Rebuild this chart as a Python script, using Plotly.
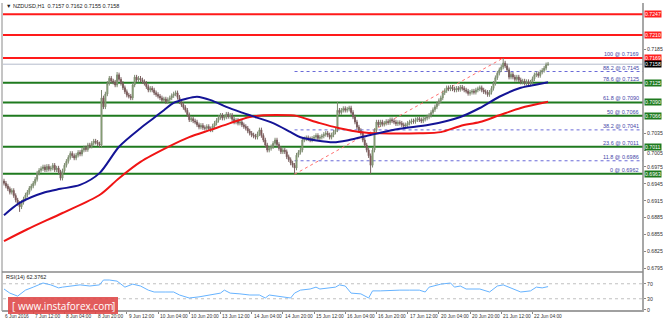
import plotly.graph_objects as go

# ---------------- DATA ----------------
closes = [
    0.6946, 0.6941, 0.6936, 0.6930, 0.6933, 0.6924, 0.6916, 0.6910, 0.6904, 0.6912,
    0.6918, 0.6925, 0.6930, 0.6937, 0.6941, 0.6946, 0.6953, 0.6964, 0.6969, 0.6972,
    0.6975, 0.6970, 0.6976, 0.6971, 0.6973, 0.6978, 0.6970, 0.6973, 0.6966, 0.6955,
    0.6968, 0.6978, 0.6985, 0.6992, 0.6999, 0.6995, 0.6991, 0.6996, 0.7001, 0.6998,
    0.7005, 0.7009, 0.7006, 0.7014, 0.7012, 0.7017, 0.7021, 0.7019, 0.7016, 0.7014,
    0.7098, 0.7082, 0.7105, 0.7124, 0.7133, 0.7128, 0.7126, 0.7121, 0.7139, 0.7131,
    0.7124, 0.7116, 0.7109, 0.7103, 0.7101, 0.7098, 0.7121, 0.7135, 0.7130, 0.7133,
    0.7130, 0.7127, 0.7124, 0.7118, 0.7112, 0.7115, 0.7112, 0.7107, 0.7104, 0.7101,
    0.7098, 0.7094, 0.7096, 0.7091, 0.7095, 0.7098, 0.7102, 0.7105, 0.7107, 0.7099,
    0.7091, 0.7086, 0.7081, 0.7076, 0.7068, 0.7059, 0.7061, 0.7057, 0.7055, 0.7050,
    0.7046, 0.7049, 0.7045, 0.7044, 0.7047, 0.7043, 0.7041, 0.7048, 0.7053, 0.7058,
    0.7063, 0.7067, 0.7062, 0.7064, 0.7069, 0.7065, 0.7067, 0.7060, 0.7055, 0.7058,
    0.7053, 0.7055, 0.7050, 0.7047, 0.7044, 0.7039, 0.7035, 0.7032, 0.7030, 0.7028,
    0.7034, 0.7041, 0.7031, 0.7023, 0.7014, 0.7005, 0.7008, 0.7011, 0.7017, 0.7023,
    0.7015, 0.7008, 0.7002, 0.7005, 0.7002, 0.6993, 0.6988, 0.6982, 0.6978, 0.6973,
    0.6996, 0.7001, 0.7005, 0.7023, 0.7025, 0.7027, 0.7025, 0.7023, 0.7026, 0.7028,
    0.7031, 0.7026, 0.7028, 0.7030, 0.7033, 0.7035, 0.7032, 0.7028, 0.7032, 0.7037,
    0.7041, 0.7076, 0.7072, 0.7076, 0.7079, 0.7076, 0.7078, 0.7080, 0.7072, 0.7064,
    0.7055, 0.7046, 0.7040, 0.7035, 0.7023, 0.7014, 0.7005, 0.6995, 0.6978, 0.7005,
    0.7040, 0.7055, 0.7050, 0.7055, 0.7051, 0.7053, 0.7056, 0.7054, 0.7059, 0.7057,
    0.7055, 0.7052, 0.7054, 0.7053, 0.7050, 0.7048, 0.7050, 0.7053, 0.7055, 0.7057,
    0.7056, 0.7059, 0.7061, 0.7059, 0.7057, 0.7060, 0.7062, 0.7064, 0.7067, 0.7072,
    0.7077, 0.7082, 0.7088, 0.7093, 0.7098, 0.7107, 0.7111, 0.7116, 0.7114, 0.7117,
    0.7114, 0.7112, 0.7115, 0.7113, 0.7117, 0.7115, 0.7112, 0.7110, 0.7106, 0.7108,
    0.7110, 0.7108, 0.7112, 0.7114, 0.7116, 0.7112, 0.7109, 0.7108, 0.7104, 0.7108,
    0.7115, 0.7124, 0.7134, 0.7142, 0.7148, 0.7153, 0.7160, 0.7155, 0.7148, 0.7135,
    0.7140, 0.7135, 0.7131, 0.7135, 0.7130, 0.7126, 0.7128, 0.7124, 0.7127, 0.7123,
    0.7126, 0.7132, 0.7139, 0.7141, 0.7138, 0.7144, 0.7147, 0.7151, 0.7157, 0.7158,
]
first_open = 0.6950
wick = 0.0004
high_override = {50: 0.7112, 58: 0.7144, 171: 0.7091, 256: 0.7169, 279: 0.7162}
low_override = {8: 0.6895, 149: 0.6962, 188: 0.6963, 279: 0.7155}

ma_blue_x = [0, 8, 21, 29, 39, 49, 59, 70, 76, 82, 87, 93, 99, 106, 114, 121, 127, 138, 147,
             152, 169, 177, 188, 203, 218, 234, 244, 254, 265, 272, 279]
ma_blue_y = [0.6889, 0.6911, 0.6930, 0.6936, 0.6943, 0.6964, 0.7011, 0.7044, 0.7060, 0.7076,
             0.7089, 0.7096, 0.7100, 0.7094, 0.7082, 0.7073, 0.7066, 0.7053, 0.7037,
             0.7028, 0.7019, 0.7023, 0.7032, 0.7043, 0.7050, 0.7064, 0.7080, 0.7100,
             0.7116, 0.7121, 0.7126]

ma_red_x = [0, 12, 30, 49, 59, 70, 85, 95, 106, 116, 126, 133, 147, 150, 162, 172, 183,
            193, 213, 224, 234, 244, 254, 265, 279]
ma_red_y = [0.6843, 0.6864, 0.6893, 0.6925, 0.6955, 0.6984, 0.7012, 0.7028, 0.7041, 0.7053,
            0.7064, 0.7067, 0.7067, 0.7066, 0.7053, 0.7044, 0.7037, 0.7035, 0.7035,
            0.7037, 0.7048, 0.7055, 0.7067, 0.7080, 0.7091]

rsi_x = [0, 3, 7, 11, 15, 20, 24, 28, 30, 34, 39, 44, 49, 51, 54, 58, 62, 66, 70, 74, 77,
         83, 87, 90, 95, 100, 106, 111, 113, 116, 121, 126, 131, 134, 136, 142, 147, 149,
         152, 157, 160, 162, 167, 170, 172, 175, 178, 183, 187, 189, 193, 198, 203, 208,
         213, 216, 218, 224, 229, 231, 234, 237, 244, 249, 253, 256, 259, 265, 270, 273,
         276, 279]
rsi_y = [56, 45, 37, 53, 61, 72, 67, 59, 61, 64, 67, 64, 67, 80, 80, 77, 61, 69, 64, 53, 48,
         48, 48, 40, 32, 35, 40, 45, 53, 45, 43, 40, 40, 32, 40, 35, 32, 45,
         53, 56, 61, 56, 59, 61, 67, 64, 45, 43, 32, 51, 51, 53, 53, 53,
         53, 48, 61, 69, 72, 61, 64, 56, 56, 48, 64, 67, 61, 48, 51, 61,
         59, 62.38]

red_levels = [0.7247, 0.7210, 0.7169]
red_labels = ["0.7247", "0.7210", "0.7169"]
green_levels = [0.7125, 0.7090, 0.7066, 0.7011, 0.6963]
green_labels = ["0.7125", "0.7090", "0.7066", "0.7011", "0.6963"]
bid_level = 0.7158
bid_label = "0.7158"

fib_start_bar, fib_end_bar = 149, 256
fib_low, fib_high = 0.6962, 0.7169
fib_names = ["100", "88.2", "78.6", "61.8", "50", "38.2", "23.6", "11.8", "0"]
fib_values = [0.7169, 0.7145, 0.7125, 0.7090, 0.7066, 0.7041, 0.7011, 0.6986, 0.6962]
fib_dotted = ["88.2", "38.2", "11.8"]

price_ticks = [0.7185, 0.7035, 0.7005, 0.6975, 0.6945, 0.6915, 0.6885, 0.6855, 0.6825, 0.6795]
rsi_ticks = [100, 70, 30, 0]
rsi_levels = [70, 30]

time_labels = ["6 Jun 2016", "7 Jun 12:00", "8 Jun 04:00", "8 Jun 20:00", "9 Jun 12:00",
               "10 Jun 04:00", "10 Jun 20:00", "13 Jun 12:00", "14 Jun 04:00", "14 Jun 20:00",
               "15 Jun 12:00", "16 Jun 04:00", "16 Jun 20:00", "17 Jun 12:00", "20 Jun 04:00",
               "20 Jun 20:00", "21 Jun 12:00", "22 Jun 04:00"]
bars_per_label = 16

title_text = "\u25bc NZDUSD,H1  0.7157 0.7162 0.7155 0.7158"
rsi_text = "RSI(14) 62.3762"

# ---------------- BUILD ----------------
N = len(closes)
bars = list(range(N))
opens = [first_open] + closes[:-1]
highs = [high_override.get(i, max(o, c) + wick) for i, (o, c) in enumerate(zip(opens, closes))]
lows = [low_override.get(i, min(o, c) - wick) for i, (o, c) in enumerate(zip(opens, closes))]

W, H = 663, 322
L, R, T, B = 3, 20, 3, 11
PW, PH = W - L - R, H - T - B
x_range = [-0.513, -0.513 + PW / 1.95]


def yp(py):
    return (H - B - py) / PH


def xp(px):
    return (px - L) / PW


FONT = "Liberation Sans"
AX = 5.2

fig = go.Figure()

fig.add_trace(go.Candlestick(
    x=bars, open=opens, high=highs, low=lows, close=closes,
    increasing=dict(line=dict(color="#7d8a70", width=1), fillcolor="#9ad97a"),
    decreasing=dict(line=dict(color="#7a6060", width=1), fillcolor="#8b1c1c"),
    whiskerwidth=0, showlegend=False, xaxis="x", yaxis="y", hoverinfo="skip"))

fig.add_trace(go.Scatter(x=ma_red_x, y=ma_red_y, mode="lines",
                         line=dict(color="#f01414", width=2, shape="spline", smoothing=0.8),
                         showlegend=False, xaxis="x", yaxis="y", hoverinfo="skip"))
fig.add_trace(go.Scatter(x=ma_blue_x, y=ma_blue_y, mode="lines",
                         line=dict(color="#141496", width=2, shape="spline", smoothing=0.8),
                         showlegend=False, xaxis="x", yaxis="y", hoverinfo="skip"))

fig.add_trace(go.Scatter(x=rsi_x, y=rsi_y, mode="lines",
                         line=dict(color="#66b3ff", width=1),
                         showlegend=False, xaxis="x", yaxis="y2", hoverinfo="skip"))

shapes = []
annotations = []

for lv in red_levels:
    shapes.append(dict(type="line", xref="paper", yref="y", x0=0, x1=1, y0=lv, y1=lv,
                       line=dict(color="#ff1a1a", width=2), layer="below"))
for lv in green_levels:
    shapes.append(dict(type="line", xref="paper", yref="y", x0=0, x1=1, y0=lv, y1=lv,
                       line=dict(color="#1f7a1f", width=2), layer="below"))
shapes.append(dict(type="line", xref="paper", yref="y", x0=0, x1=1, y0=bid_level, y1=bid_level,
                   line=dict(color="#b4bccb", width=1), layer="below"))

for name, v in zip(fib_names, fib_values):
    if name in fib_dotted:
        shapes.append(dict(type="line", xref="x", yref="y", x0=fib_start_bar, x1=x_range[1],
                           y0=v, y1=v, line=dict(color="#6a6ad8", width=1, dash="dot"),
                           layer="below"))
    annotations.append(dict(xref="paper", yref="y", x=1, y=v, xanchor="right", yanchor="bottom",
                            xshift=-2, yshift=-1, text=f"{name} @ {v:.4f}", showarrow=False,
                            font=dict(family=FONT, size=5.5, color="#4646a8")))
shapes.append(dict(type="line", xref="x", yref="y", x0=fib_start_bar, x1=fib_end_bar,
                   y0=fib_low, y1=fib_high, line=dict(color="#ff7070", width=1, dash="dot"),
                   layer="below"))

for lv in rsi_levels:
    shapes.append(dict(type="line", xref="paper", yref="y2", x0=0, x1=1, y0=lv, y1=lv,
                       line=dict(color="#c0c0c0", width=1, dash="dot"), layer="below"))

frame = "#8a8a8a"
shapes += [
    dict(type="line", xref="paper", yref="paper", x0=xp(2), x1=xp(2), y0=yp(311), y1=1,
         line=dict(color=frame, width=1)),
    dict(type="line", xref="paper", yref="paper", x0=1, x1=1, y0=yp(312), y1=1,
         line=dict(color=frame, width=1.5)),
    dict(type="line", xref="paper", yref="paper", x0=xp(2), x1=1, y0=yp(272), y1=yp(272),
         line=dict(color=frame, width=1.5)),
    dict(type="line", xref="paper", yref="paper", x0=xp(2), x1=1, y0=yp(311), y1=yp(311),
         line=dict(color="#a0a0a0", width=2)),
]

# right axis tick labels as annotations (so crowded ones can be nudged clear of the boxes)
for v in price_ticks:
    nudge = 0
    for g in green_levels + red_levels + [bid_level]:
        if abs(g - v) < 0.0008:
            nudge = -3 if v < g else 3
    annotations.append(dict(xref="paper", yref="y", x=1, y=v, xanchor="left", yanchor="middle",
                            xshift=1.5, yshift=nudge, text=f"{v:.4f}", showarrow=False,
                            font=dict(family=FONT, size=AX, color="#333333")))


def box(v, txt, bg, fg="white"):
    annotations.append(dict(xref="paper", yref="y", x=1, y=v, xanchor="left", yanchor="middle",
                            xshift=1, text=txt, showarrow=False, bgcolor=bg, borderpad=0,
                            font=dict(family=FONT, size=AX, color=fg)))


for v, t in zip(red_levels, red_labels):
    box(v, t, "#ff2020")
box(bid_level, bid_label, "#000000")
for v, t in zip(green_levels, green_labels):
    box(v, t, "#1f7a1f")

for k, t in enumerate(time_labels):
    xv = x_range[0] if k == 0 else k * bars_per_label - 1
    annotations.append(dict(xref="x", yref="paper", x=xv, y=yp(316.5), xanchor="left",
                            yanchor="middle", text=t, showarrow=False,
                            font=dict(family=FONT, size=4.8, color="#333333")))

annotations.append(dict(xref="paper", yref="paper", x=xp(4), y=yp(6), xanchor="left",
                        yanchor="middle", text=title_text, showarrow=False,
                        font=dict(family=FONT, size=5.5, color="#222222")))
annotations.append(dict(xref="paper", yref="paper", x=xp(4), y=yp(277), xanchor="left",
                        yanchor="middle", text=rsi_text, showarrow=False,
                        font=dict(family=FONT, size=5.5, color="#222222")))

shapes.append(dict(type="rect", xref="paper", yref="paper", x0=xp(8), x1=xp(118),
                   y0=yp(314), y1=yp(297), fillcolor="rgba(222,70,70,0.88)",
                   line=dict(width=0)))
for px_, txt in [(14, "["), (65, "www.instaforex.com"), (113, "]")]:
    annotations.append(dict(xref="paper", yref="paper", x=xp(px_), y=yp(305.5), xanchor="center",
                            yanchor="middle", text=txt, showarrow=False,
                            font=dict(family="Open Sans", size=10, color="white")))

fig.update_layout(
    width=W, height=H,
    margin=dict(l=L, r=R, t=T, b=B),
    paper_bgcolor="white", plot_bgcolor="white",
    showlegend=False,
    xaxis=dict(range=x_range, anchor="y2", showgrid=False, zeroline=False,
               rangeslider=dict(visible=False), showticklabels=False,
               tickvals=[k * bars_per_label - 1 for k in range(1, len(time_labels))],
               ticks="outside", ticklen=2, tickcolor="#888888", showline=False),
    yaxis=dict(domain=[yp(272), 1], range=[0.67879, 0.72670], side="right",
               tickvals=price_ticks, showticklabels=False,
               ticks="outside", ticklen=2, tickcolor="#888888",
               showgrid=False, zeroline=False, anchor="x"),
    yaxis2=dict(domain=[0, yp(273)], range=[-2.7, 98.7], side="right",
                tickvals=rsi_ticks, ticks="outside", ticklen=2, tickcolor="#888888",
                tickfont=dict(family=FONT, size=AX, color="#333333"),
                showgrid=False, zeroline=False, anchor="x"),
    shapes=shapes,
    annotations=annotations,
)

fig.write_html("out.html")
